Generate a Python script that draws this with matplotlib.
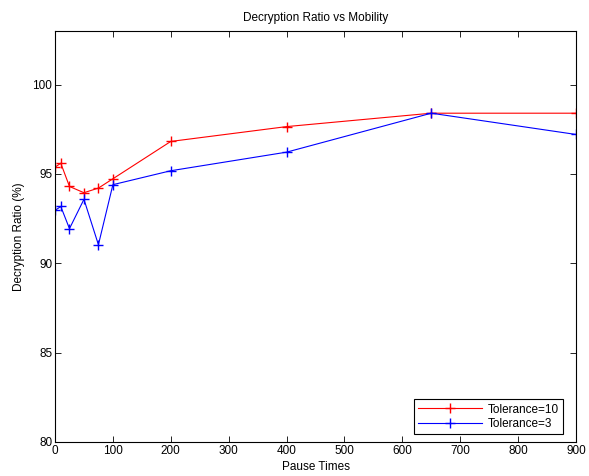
import matplotlib
matplotlib.use('Agg')
import matplotlib.pyplot as plt

plt.rcParams['font.family'] = ['Liberation Sans', 'DejaVu Sans']

pause_times = [0, 10, 25, 50, 75, 100, 200, 400, 650, 900]
tol10 = [95.38, 95.6, 94.3, 93.95, 94.21, 94.73, 96.82, 97.65, 98.4, 98.4]
tol3 = [92.96, 93.18, 91.94, 93.58, 91.04, 94.4, 95.18, 96.22, 98.4, 97.21]

fs = 8.5

fig = plt.figure(figsize=(5.89, 4.76), dpi=100)
ax = fig.add_axes([55 / 589, 34 / 476, 521 / 589, 411 / 476])

ax.plot(pause_times, tol10, color='red', marker='+', markersize=7, linewidth=0.8, label='Tolerance=10')
ax.plot(pause_times, tol3, color='blue', marker='+', markersize=7, linewidth=0.8, label='Tolerance=3')

ax.set_xlim(0, 900)
ax.set_ylim(80, 103)
ax.set_xticks(range(0, 901, 100))
ax.set_yticks(range(80, 101, 5))
ax.tick_params(direction='in', top=True, right=True, labelsize=fs, length=4, width=0.6, pad=2)
for s in ax.spines.values():
    s.set_linewidth(0.8)

ax.set_title('Decryption Ratio vs Mobility', fontsize=fs, pad=7)
ax.set_xlabel('Pause Times', fontsize=fs, labelpad=3)
ax.set_ylabel('Decryption Ratio (%)', fontsize=fs, labelpad=5)

leg = ax.legend(loc='lower right', fontsize=fs, fancybox=False, edgecolor='black',
                framealpha=1, bbox_to_anchor=(563 / 589, 42 / 476),
                bbox_transform=fig.transFigure, borderaxespad=0,
                handlelength=5.4, handletextpad=0.5, borderpad=0.35,
                labelspacing=0.2, numpoints=1)
leg.get_frame().set_linewidth(0.8)

fig.savefig('out.png', dpi=100)
